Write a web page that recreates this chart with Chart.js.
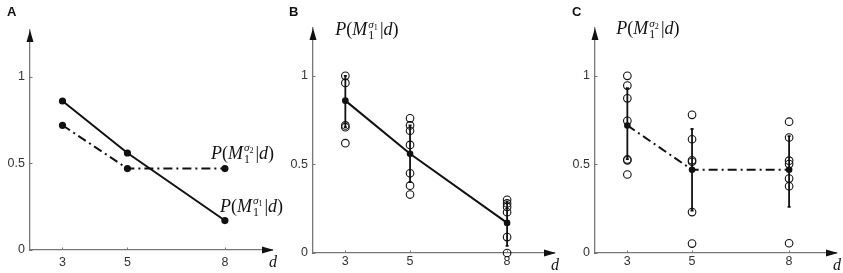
<!DOCTYPE html>
<html lang="en">
  <head>
    <meta charset="utf-8" />
    <title>P(M|d) panels</title>
    <style>
      * { margin: 0; padding: 0; }
      body { width: 843px; height: 273px; background: #fff; position: relative; overflow: hidden; }
      canvas { position: absolute; top: 0; }
      .letter { position: absolute; top: 4px; font: bold 13px "Liberation Sans", Arial, sans-serif; color: #111; }
    </style>
  </head>
  <body>
    <canvas id="chartA" width="285" height="273" style="left:0px"></canvas>
    <canvas id="chartB" width="280" height="273" style="left:283px"></canvas>
    <canvas id="chartC" width="278" height="273" style="left:565px"></canvas>
    <div class="letter" style="left:7px">A</div>
    <div class="letter" style="left:289px">B</div>
    <div class="letter" style="left:572px">C</div>

    <script src="https://cdn.jsdelivr.net/npm/chart.js@4.4.1/dist/chart.umd.min.js"></script>
    <script>
      // data
      const dTicks = [3, 5, 8];
      const yTicks = [0, 0.5, 1];
      const meanSigma1 = [0.86, 0.56, 0.17];
      const meanSigma2 = [0.72, 0.47, 0.47];

      // single runs, one list per d
      const trialsSigma1 = [
        [1.0, 0.96, 0.72, 0.71, 0.62],
        [0.76, 0.72, 0.69, 0.61, 0.45, 0.38, 0.33],
        [0.3, 0.28, 0.26, 0.23, 0.09, 0.0],
      ];
      const lowSigma1 = [0.71, 0.4, 0.04];
      const highSigma1 = [1.0, 0.72, 0.29];

      const trialsSigma2 = [
        [1.0, 0.945, 0.873, 0.746, 0.528, 0.523, 0.443],
        [0.78, 0.642, 0.523, 0.515, 0.231, 0.053],
        [0.741, 0.652, 0.521, 0.502, 0.42, 0.377, 0.055],
      ];
      const lowSigma2 = [0.53, 0.24, 0.26];
      const highSigma2 = [0.93, 0.7, 0.66];

      const serif = '"Liberation Serif", "DejaVu Serif", serif';
      const sans = '"Liberation Sans", Arial, sans-serif';
      const ink = "#111";
      const axisGray = "#777";

      // P(M_1^{sigma_k} | d)
      function drawMath(ctx, x, y, k, s) {
        let cx = x;
        const put = (txt, style, sz, dx, dy) => {
          ctx.font = `${style} ${sz}px ${serif}`;
          ctx.fillText(txt, dx, y + dy);
          return ctx.measureText(txt).width;
        };
        cx += put("P", "italic", s, cx, 0);
        cx += put("(", "normal", s, cx, 0);
        cx += put("M", "italic", s, cx, 0);
        const sx = cx + 1;
        const wSub = put("1", "normal", s * 0.66, sx, s * 0.22);
        let wSup = put("\u03c3", "italic", s * 0.62, sx, -s * 0.4);
        wSup += put(k, "normal", s * 0.45, sx + wSup, -s * 0.3);
        cx = sx + Math.max(wSub, wSup) + 2;
        cx += put("|", "normal", s, cx, 0);
        cx += put("d", "italic", s, cx, 0);
        put(")", "normal", s, cx, 0);
      }

      const decor = {
        id: "decor",
        beforeDatasetsDraw(chart, args, opts) {
          const { ctx, chartArea: { left, bottom }, scales: { x, y } } = chart;
          ctx.save();
          // small inward ticks
          ctx.strokeStyle = axisGray;
          ctx.lineWidth = 1;
          ctx.beginPath();
          dTicks.forEach((d) => {
            const px = Math.round(x.getPixelForValue(d)) + 0.5;
            ctx.moveTo(px, bottom);
            ctx.lineTo(px, bottom - 2.5);
          });
          yTicks.forEach((v) => {
            const py = Math.round(y.getPixelForValue(v)) + 0.5;
            ctx.moveTo(left, py);
            ctx.lineTo(left + 2.5, py);
          });
          ctx.stroke();
          if (opts.low) {
            ctx.strokeStyle = ink;
            ctx.lineWidth = 1.8;
            dTicks.forEach((d, i) => {
              const px = x.getPixelForValue(d);
              const y0 = y.getPixelForValue(opts.low[i]);
              const y1 = y.getPixelForValue(opts.high[i]);
              ctx.beginPath();
              ctx.moveTo(px, y0);
              ctx.lineTo(px, y1);
              ctx.moveTo(px - 1.5, y0);
              ctx.lineTo(px + 1.5, y0);
              ctx.moveTo(px - 1.5, y1);
              ctx.lineTo(px + 1.5, y1);
              ctx.stroke();
            });
          }
          ctx.restore();
        },
        afterDraw(chart, args, opts) {
          const { ctx, chartArea: { left, right, top, bottom }, scales: { x, y } } = chart;
          ctx.save();
          ctx.fillStyle = ink;
          // axis arrows
          ctx.beginPath();
          ctx.moveTo(left, top);
          ctx.lineTo(left - 3.5, top + 12);
          ctx.lineTo(left + 3.5, top + 12);
          ctx.fill();
          ctx.beginPath();
          ctx.moveTo(right + 2, bottom);
          ctx.lineTo(right - 10, bottom - 3.5);
          ctx.lineTo(right - 10, bottom + 3.5);
          ctx.fill();
          // d label
          ctx.font = `italic 16px ${serif}`;
          ctx.fillText("d", right - 3, bottom + 17);
          // math labels
          (opts.labels || []).forEach((l) => {
            drawMath(ctx, x.getPixelForValue(l.x) + l.dx, y.getPixelForValue(l.y) + l.dy, l.k, 18);
          });
          ctx.restore();
        },
      };

      function scalesFor(xAxisH, tickPad) {
        const grid = { drawOnChartArea: false, drawTicks: false };
        const border = { display: true, color: axisGray, width: 1.3 };
        const font = { family: sans, size: 12.5 };
        return {
          x: {
            type: "linear",
            min: 2,
            max: 9.45,
            afterBuildTicks: (s) => { s.ticks = dTicks.map((v) => ({ value: v })); },
            afterFit: (s) => { s.height = xAxisH; },
            grid: grid,
            border: border,
            ticks: { font: font, color: "#333", padding: tickPad, autoSkip: false, maxRotation: 0 },
          },
          y: {
            min: 0,
            max: 1.27,
            afterBuildTicks: (s) => { s.ticks = yTicks.map((v) => ({ value: v })); },
            afterFit: (s) => { s.width = 30; },
            grid: grid,
            border: border,
            ticks: { font: font, color: "#333", padding: 5, callback: (v) => String(v) },
          },
        };
      }

      function pts(vals) {
        return dTicks.map((d, i) => ({ x: d, y: vals[i] }));
      }
      function trialPts(lists) {
        const out = [];
        lists.forEach((l, i) => l.forEach((v) => out.push({ x: dTicks[i], y: v })));
        return out;
      }

      function meanSet(vals, dash, r) {
        return {
          type: "scatter",
          data: pts(vals),
          showLine: true,
          borderColor: ink,
          borderWidth: 2,
          borderDash: dash,
          backgroundColor: ink,
          pointRadius: r,
          pointBorderWidth: 0,
          clip: false,
          order: 0,
        };
      }
      function trialSet(lists) {
        return {
          type: "scatter",
          data: trialPts(lists),
          borderColor: ink,
          backgroundColor: "rgba(0,0,0,0)",
          pointRadius: 3.8,
          pointBorderWidth: 1.1,
          clip: false,
          order: 1,
        };
      }

      function makeChart(id, datasets, pad, xAxisH, tickPad, decorOpts) {
        return new Chart(document.getElementById(id), {
          type: "scatter",
          data: { datasets: datasets },
          options: {
            responsive: false,
            animation: false,
            layout: { padding: pad },
            plugins: { legend: { display: false }, tooltip: { enabled: false }, decor: decorOpts },
            scales: scalesFor(xAxisH, tickPad),
          },
          plugins: [decor],
        });
      }

      const dashDot = [9, 4, 2, 4];

      makeChart(
        "chartA",
        [meanSet(meanSigma1, [], 3.6), meanSet(meanSigma2, dashDot, 3.6)],
        { top: 30, right: 13, left: 0, bottom: 0 },
        23,
        5,
        {
          labels: [
            { x: 8, y: meanSigma2[2], dx: -14, dy: -10, k: "2" },
            { x: 8, y: meanSigma1[2], dx: -5, dy: -9, k: "1" },
          ],
        }
      );

      makeChart(
        "chartB",
        [meanSet(meanSigma1, [], 3.3), trialSet(trialsSigma1)],
        { top: 28, right: 9, left: 0, bottom: 0 },
        20,
        1,
        { low: lowSigma1, high: highSigma1, labels: [{ x: 3, y: 1.27, dx: -10, dy: 7, k: "1" }] }
      );

      makeChart(
        "chartC",
        [meanSet(meanSigma2, dashDot, 3.3), trialSet(trialsSigma2)],
        { top: 28, right: 7, left: 0, bottom: 0 },
        20,
        1,
        { low: lowSigma2, high: highSigma2, labels: [{ x: 3, y: 1.27, dx: -11, dy: 6, k: "2" }] }
      );
    </script>
  </body>
</html>
